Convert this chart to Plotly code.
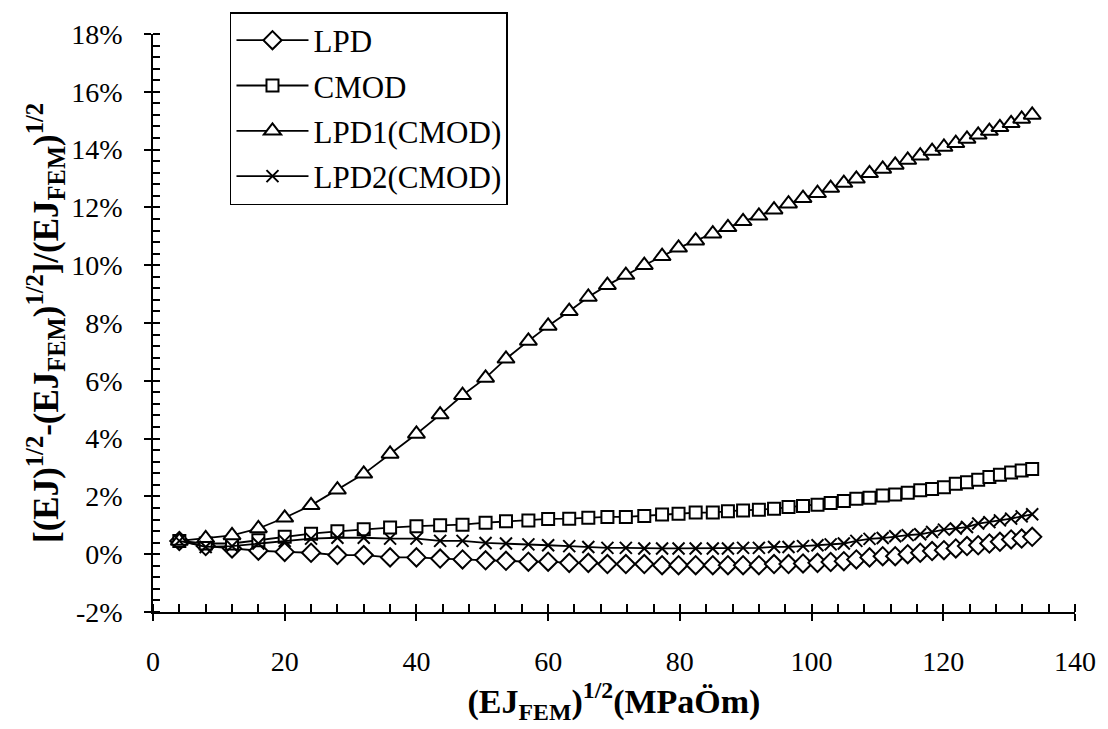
import plotly.graph_objects as go

# (EJ_FEM)^1/2 values (MPa·m^1/2)
x_vals = [4, 8, 12, 16, 20, 24, 28, 32, 36, 40,
          43.6, 47.0, 50.5, 53.6, 57.0, 60.0, 63.2, 66.1, 69.0, 71.8,
          74.6, 77.3, 79.8, 82.4, 85.0, 87.3, 89.6, 92.0, 94.3, 96.5,
          98.7, 100.9, 102.9, 104.9, 106.8, 108.8, 110.8, 112.7, 114.6, 116.5,
          118.3, 120.1, 121.9, 123.6, 125.3, 127.0, 128.6, 130.3, 131.9, 133.5]

# relative errors in percent
lpd = [0.46, 0.28, 0.20, 0.12, 0.08, 0.05, -0.03, -0.03, -0.11, -0.11,
       -0.15, -0.18, -0.21, -0.23, -0.26, -0.26, -0.30, -0.30, -0.34, -0.34,
       -0.34, -0.38, -0.38, -0.38, -0.38, -0.38, -0.38, -0.38, -0.34, -0.34,
       -0.32, -0.30, -0.27, -0.24, -0.18, -0.11, -0.07, -0.07, 0.00, 0.05,
       0.11, 0.14, 0.20, 0.28, 0.31, 0.37, 0.43, 0.51, 0.54, 0.60]

cmod = [0.46, 0.37, 0.37, 0.48, 0.60, 0.71, 0.79, 0.86, 0.92, 0.97,
        1.00, 1.02, 1.09, 1.14, 1.17, 1.22, 1.23, 1.26, 1.29, 1.29,
        1.32, 1.37, 1.40, 1.44, 1.44, 1.49, 1.51, 1.54, 1.57, 1.63,
        1.67, 1.71, 1.77, 1.84, 1.92, 1.95, 2.03, 2.07, 2.13, 2.21,
        2.26, 2.32, 2.44, 2.49, 2.58, 2.67, 2.75, 2.83, 2.90, 2.95]

lpd1 = [0.46, 0.55, 0.65, 0.89, 1.26, 1.69, 2.23, 2.78, 3.47, 4.16,
        4.83, 5.50, 6.10, 6.76, 7.38, 7.90, 8.41, 8.90, 9.31, 9.66,
        10.00, 10.31, 10.60, 10.85, 11.09, 11.31, 11.52, 11.71, 11.92, 12.13,
        12.32, 12.49, 12.67, 12.84, 12.99, 13.18, 13.33, 13.47, 13.64, 13.79,
        13.95, 14.09, 14.22, 14.37, 14.51, 14.64, 14.77, 14.91, 15.06, 15.20]

lpd2 = [0.46, 0.25, 0.28, 0.37, 0.46, 0.54, 0.57, 0.57, 0.54, 0.54,
        0.46, 0.46, 0.39, 0.37, 0.34, 0.31, 0.28, 0.25, 0.22, 0.22,
        0.20, 0.20, 0.20, 0.20, 0.20, 0.20, 0.22, 0.22, 0.25, 0.25,
        0.28, 0.31, 0.34, 0.37, 0.46, 0.53, 0.56, 0.62, 0.66, 0.69,
        0.77, 0.85, 0.89, 0.94, 1.06, 1.11, 1.17, 1.23, 1.31, 1.38]

series_names = ["LPD", "CMOD", "LPD1(CMOD)", "LPD2(CMOD)"]
x_ticks = [0, 20, 40, 60, 80, 100, 120, 140]
y_ticks = [-2, 0, 2, 4, 6, 8, 10, 12, 14, 16, 18]
y_ticktext = [f"{v}%" for v in y_ticks]

FONT = "Liberation Serif"

fig = go.Figure()

styles = [
    (lpd, dict(symbol="diamond", size=14, color="white", line=dict(color="black", width=2))),
    (cmod, dict(symbol="square", size=12, color="white", line=dict(color="black", width=2))),
    (lpd1, dict(symbol="triangle-up", size=15, color="white", line=dict(color="black", width=2))),
    (lpd2, dict(symbol="x-thin", size=12, color="black", line=dict(color="black", width=2))),
]

for i, (name, (vals, mk)) in enumerate(zip(series_names, styles)):
    fig.add_trace(go.Scatter(
        x=x_vals, y=vals, name=name, mode="lines+markers",
        line=dict(color="black", width=1.8),
        marker=mk, legendgroup=f"g{i}",
    ))

axis_common = dict(showgrid=False, zeroline=False, color="black")

fig.update_layout(
    width=1108, height=729,
    margin=dict(l=153, r=33, t=32, b=117),
    paper_bgcolor="white", plot_bgcolor="white",
    font=dict(family=FONT, color="black", size=28),
    showlegend=True,
    legend=dict(
        x=0.0835, xanchor="left", y=1.038, yanchor="top",
        bordercolor="black", borderwidth=1.5, bgcolor="white",
        font=dict(family=FONT, size=31, color="black"),
        tracegroupgap=2, itemwidth=72,
    ),
    xaxis=dict(
        range=[0, 140], tickvals=x_ticks, ticks="outside", ticklen=7, tickwidth=1.5,
        tickcolor="black", showline=True, linecolor="black", linewidth=1.5,
        ticklabelstandoff=17,
        minor=dict(dtick=4, tick0=0, ticks="inside", ticklen=8, tickwidth=1.5, tickcolor="black"),
        tickfont=dict(family=FONT, size=28),
        title=dict(text="(EJ<sub>FEM</sub>)<sup>1/2</sup>(MPaÖm)", standoff=12,
                   font=dict(family=FONT, size=34, weight="bold")),
        **axis_common,
    ),
    yaxis=dict(
        range=[-2, 18], tickvals=y_ticks, ticktext=y_ticktext, ticks="outside", ticklen=7,
        tickwidth=1.5, tickcolor="black", showline=True, linecolor="black", linewidth=1.5,
        ticklabelstandoff=16,
        minor=dict(dtick=0.4, tick0=0, ticks="inside", ticklen=7, tickwidth=1.5, tickcolor="black"),
        tickfont=dict(family=FONT, size=28),
        title=dict(text="[(EJ)<sup>1/2</sup>-(EJ<sub>FEM</sub>)<sup>1/2</sup>]/(EJ<sub>FEM</sub>)<sup>1/2</sup>",
                   standoff=2, font=dict(family=FONT, size=35, weight="bold")),
        **axis_common,
    ),
    xaxis2=dict(
        overlaying="x", matches="x", anchor="y", side="bottom", tickvals=x_ticks,
        ticks="inside", ticklen=10, tickwidth=1.5, tickcolor="black",
        showticklabels=False, showline=False, **axis_common,
    ),
    yaxis2=dict(
        overlaying="y", matches="y", anchor="x", side="left", tickvals=y_ticks,
        ticks="inside", ticklen=10, tickwidth=1.5, tickcolor="black",
        showticklabels=False, showline=False, **axis_common,
    ),
)

fig.write_html("out.html")
